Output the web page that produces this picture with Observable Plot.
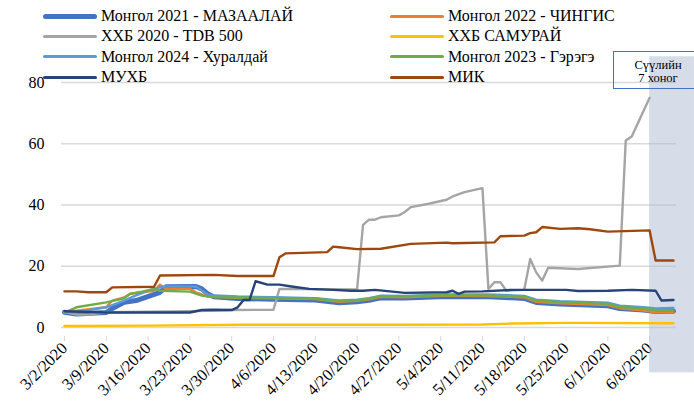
<!DOCTYPE html>
<html><head><meta charset="utf-8">
<script src="https://cdn.jsdelivr.net/npm/d3@7"></script>
<script src="https://cdn.jsdelivr.net/npm/@observablehq/plot@0.6"></script>
<style>
body{margin:0;background:#fff;}
#wrap{position:relative;width:694px;height:404px;overflow:hidden;font-family:"Liberation Serif","Times New Roman",serif;color:#000;}
#chart{position:absolute;left:0;top:0;}
.leg{position:absolute;height:20px;display:flex;align-items:center;font-size:16px;white-space:nowrap;}
.sw{width:54px;margin-right:4px;border-radius:3px;}
#note{position:absolute;left:613px;top:51px;width:88px;height:29px;border:1.5px solid #4472C4;font-size:12.5px;line-height:12.5px;text-align:center;padding-top:7px;box-sizing:content-box;}
</style>
</head><body>
<div id="wrap"><div id="chart"></div></div>
<script>
// ---- data ----
const seriesNames = ["Монгол 2021 - МАЗААЛАЙ","Монгол 2022 - ЧИНГИС","ХХБ 2020 - TDB 500","ХХБ САМУРАЙ","Монгол 2024 - Хуралдай","Монгол 2023 - Гэрэгэ","МУХБ","МИК"];
const seriesColors = ["#4472C4","#ED7D31","#A5A5A5","#FFC000","#5B9BD5","#70AD47","#264478","#9E480E"];
const seriesWidths = [5,2.4,2.4,2.4,2.4,2.4,2.4,2.4];

const mazaalai = [["2020-03-02",5.0],["2020-03-04",4.4],["2020-03-09",4.9],["2020-03-10",6.2],["2020-03-12",8.2],["2020-03-14",8.8],["2020-03-18",11.5],["2020-03-19",13.3],["2020-03-24",13.4],["2020-03-25",12.6],["2020-03-26",11.0],["2020-03-27",10.0],["2020-03-31",9.5],["2020-04-06",9.2],["2020-04-13",9.0],["2020-04-17",8.1],["2020-04-20",8.4],["2020-04-22",8.9],["2020-04-24",9.7],["2020-04-28",9.6],["2020-05-05",10.1],["2020-05-12",10.0],["2020-05-16",9.7],["2020-05-18",9.5],["2020-05-20",8.2],["2020-05-24",7.7],["2020-06-01",7.1],["2020-06-03",6.2],["2020-06-07",5.7],["2020-06-09",5.2],["2020-06-12",5.3]];
const chingis = [["2020-03-02",4.9],["2020-03-04",5.5],["2020-03-09",6.6],["2020-03-10",8.8],["2020-03-12",9.8],["2020-03-13",11.0],["2020-03-17",12.0],["2020-03-18",14.0],["2020-03-19",12.6],["2020-03-23",12.6],["2020-03-24",11.5],["2020-03-26",10.1],["2020-03-27",10.1],["2020-03-31",9.7],["2020-04-06",9.5],["2020-04-13",9.3],["2020-04-17",8.4],["2020-04-20",8.7],["2020-04-22",9.2],["2020-04-24",10.0],["2020-04-28",9.9],["2020-05-05",10.4],["2020-05-12",10.3],["2020-05-16",10.0],["2020-05-18",9.8],["2020-05-20",8.4],["2020-05-24",7.9],["2020-06-01",7.3],["2020-06-03",6.3],["2020-06-07",5.5],["2020-06-09",5.0],["2020-06-12",4.9]];
const tdb500 = [["2020-03-02",5.0],["2020-03-04",4.2],["2020-03-06",4.2],["2020-03-09",5.0],["2020-03-23",5.3],["2020-03-30",5.7],["2020-04-06",5.8],["2020-04-07",12.6],["2020-04-20",12.4],["2020-04-21",33.5],["2020-04-22",35.2],["2020-04-23",35.2],["2020-04-24",36.0],["2020-04-27",36.6],["2020-04-28",37.7],["2020-04-29",39.3],["2020-05-02",40.4],["2020-05-05",41.7],["2020-05-06",42.8],["2020-05-08",44.2],["2020-05-11",45.5],["2020-05-12",12.6],["2020-05-13",14.8],["2020-05-14",14.8],["2020-05-15",12.0],["2020-05-18",12.3],["2020-05-19",22.4],["2020-05-20",18.0],["2020-05-21",15.3],["2020-05-22",19.5],["2020-05-27",19.1],["2020-06-03",20.2],["2020-06-04",61.1],["2020-06-05",62.4],["2020-06-08",75.0]];
const samurai = [["2020-03-02",0.5],["2020-03-16",0.6],["2020-04-01",0.9],["2020-04-27",0.9],["2020-05-11",1.0],["2020-05-16",1.3],["2020-05-25",1.5],["2020-06-12",1.4]];
const khuraldai = [["2020-03-02",5.0],["2020-03-04",5.0],["2020-03-09",6.6],["2020-03-12",8.8],["2020-03-14",10.5],["2020-03-16",12.0],["2020-03-18",13.1],["2020-03-19",13.4],["2020-03-24",13.4],["2020-03-26",10.8],["2020-03-27",10.5],["2020-03-31",10.1],["2020-04-06",9.9],["2020-04-13",9.6],["2020-04-17",8.8],["2020-04-20",9.1],["2020-04-22",9.6],["2020-04-24",10.4],["2020-04-28",10.3],["2020-05-05",10.8],["2020-05-12",10.8],["2020-05-16",10.5],["2020-05-18",10.3],["2020-05-20",9.1],["2020-05-24",8.6],["2020-06-01",8.1],["2020-06-03",7.1],["2020-06-07",6.6],["2020-06-09",6.2],["2020-06-12",6.4]];
const geregee = [["2020-03-02",4.9],["2020-03-04",6.6],["2020-03-09",8.2],["2020-03-12",9.5],["2020-03-13",11.0],["2020-03-15",11.7],["2020-03-17",12.6],["2020-03-18",12.0],["2020-03-23",11.7],["2020-03-25",10.4],["2020-03-27",9.9],["2020-03-31",9.8],["2020-04-06",9.6],["2020-04-13",9.4],["2020-04-17",8.6],["2020-04-20",8.9],["2020-04-22",9.4],["2020-04-24",10.2],["2020-04-28",10.1],["2020-05-05",10.6],["2020-05-12",10.5],["2020-05-16",10.2],["2020-05-18",10.0],["2020-05-20",8.8],["2020-05-24",8.3],["2020-06-01",7.7],["2020-06-03",6.7],["2020-06-07",6.1],["2020-06-09",5.7],["2020-06-12",5.6]];
const mukhb = [["2020-03-02",5.3],["2020-03-09",4.9],["2020-03-23",4.9],["2020-03-25",5.7],["2020-03-27",5.8],["2020-03-30",5.7],["2020-03-31",6.6],["2020-04-01",9.0],["2020-04-02",9.0],["2020-04-03",15.1],["2020-04-05",14.0],["2020-04-07",14.0],["2020-04-09",13.4],["2020-04-12",12.6],["2020-04-16",12.3],["2020-04-19",12.0],["2020-04-21",12.0],["2020-04-23",12.3],["2020-04-28",11.3],["2020-05-05",11.5],["2020-05-06",12.0],["2020-05-07",11.0],["2020-05-08",11.7],["2020-05-11",11.8],["2020-05-16",12.3],["2020-05-25",12.3],["2020-05-27",11.9],["2020-06-01",12.0],["2020-06-05",12.3],["2020-06-09",12.0],["2020-06-10",8.8],["2020-06-12",9.0]];
const mik = [["2020-03-02",11.8],["2020-03-04",11.8],["2020-03-06",11.5],["2020-03-09",11.5],["2020-03-10",13.1],["2020-03-17",13.3],["2020-03-18",17.0],["2020-03-27",17.2],["2020-03-31",16.8],["2020-04-06",16.8],["2020-04-07",22.9],["2020-04-08",24.2],["2020-04-15",24.6],["2020-04-16",26.4],["2020-04-17",26.2],["2020-04-20",25.6],["2020-04-24",25.7],["2020-04-29",27.3],["2020-05-05",27.7],["2020-05-06",27.5],["2020-05-13",27.8],["2020-05-14",29.8],["2020-05-18",30.0],["2020-05-19",30.8],["2020-05-20",31.1],["2020-05-21",32.8],["2020-05-24",32.2],["2020-05-27",32.4],["2020-05-29",32.1],["2020-06-01",31.3],["2020-06-08",31.7],["2020-06-09",21.9],["2020-06-12",21.9]];
const seriesData = [mazaalai, chingis, tdb500, samurai, khuraldai, geregee, mukhb, mik];

const xTickDates = ["2020-03-02","2020-03-09","2020-03-16","2020-03-23","2020-03-30","2020-04-06","2020-04-13","2020-04-20","2020-04-27","2020-05-04","2020-05-11","2020-05-18","2020-05-25","2020-06-01","2020-06-08"];
const yTicks = [0,20,40,60,80];
const xDomain = ["2020-03-02","2020-06-13"];
const shadeRange = {start:"2020-06-08", end:"2020-06-16", top:88.4, bottom:-14.8};
const legendCol1 = [0,2,4,6];
const legendCol2 = [1,3,5,7];
const noteLines = ["Сүүлийн","7 хоног"];

// ---- build ----
const parse = d3.utcParse("%Y-%m-%d");
const mid = s => d3.utcHour.offset(parse(s), 12);
const lineMarks = seriesData.map((data, i) => Plot.line(data.map(([d, v]) => ({date: mid(d), value: v})), {
  x: "date", y: "value", stroke: seriesColors[i], strokeWidth: seriesWidths[i], strokeLinejoin: "round", strokeLinecap: "round"
}));

const chart = Plot.plot({
  width: 694, height: 404,
  marginLeft: 61, marginRight: 18, marginTop: 82, marginBottom: 77,
  style: {fontFamily: '"Liberation Serif","Times New Roman",serif', fontSize: "16px", color: "#000", background: "transparent"},
  x: {type: "utc", domain: xDomain.map(parse)},
  y: {domain: [0, 80]},
  marks: [
    Plot.ruleY(yTicks.filter(t => t > 0), {stroke: "#d9d9d9", strokeWidth: 1.3}),
    Plot.ruleY([0], {stroke: "#d9d9d9", strokeWidth: 1.3}),
    Plot.axisY({ticks: yTicks, tickSize: 0, tickPadding: 17, label: null, fontSize: 16}),
    Plot.axisX({ticks: xTickDates.map(parse), tickSize: 5, tickPadding: 4, tickRotate: -45, tickFormat: d3.utcFormat("%-m/%-d/%Y"), stroke: "#d9d9d9", fill: "#000", label: null, fontSize: 16.5, dx: 3, dy: 9}),
    Plot.rect([shadeRange], {x1: d => mid(d.start), x2: d => parse(d.end), y1: "bottom", y2: "top", fill: "#aebad1", fillOpacity: 0.5}),
    ...lineMarks
  ]
});
document.getElementById("chart").appendChild(chart);

const wrap = document.getElementById("wrap");
const rowsY = [16, 36, 56.5, 77];
function addLegend(col, swLeft) {
  col.forEach((si, r) => {
    const d = document.createElement("div");
    d.className = "leg";
    d.style.left = swLeft + "px";
    d.style.top = (rowsY[r] - 10) + "px";
    const sw = document.createElement("div");
    sw.className = "sw";
    sw.style.height = (si === 0 ? 5 : 3) + "px";
    sw.style.background = seriesColors[si];
    const t = document.createElement("span");
    t.textContent = seriesNames[si];
    d.appendChild(sw); d.appendChild(t);
    wrap.appendChild(d);
  });
}
addLegend(legendCol1, 43);
addLegend(legendCol2, 390);
const note = document.createElement("div");
note.id = "note";
note.innerHTML = noteLines.map(s => `<div>${s}</div>`).join("");
wrap.appendChild(note);
</script>
</body></html>
